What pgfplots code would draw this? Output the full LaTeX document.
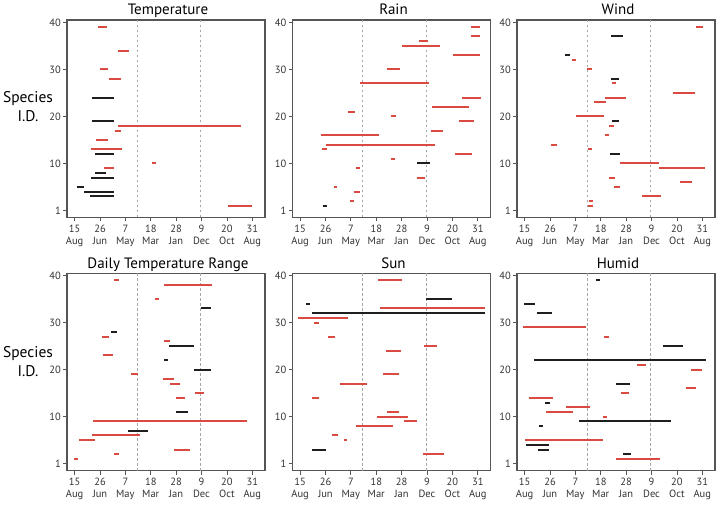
\documentclass[border=0pt]{standalone}
\usepackage{pgfplots}
\pgfplotsset{compat=1.18}
\usepackage{fontspec}
\setmainfont{PT Sans}
\definecolor{cred}{RGB}{218,74,64}
\definecolor{cblk}{RGB}{30,30,30}
\definecolor{cframe}{RGB}{85,85,85}
\definecolor{ctext}{RGB}{50,50,50}
\tikzset{
  segred/.style={color=cred, line width=2pt},
  segblk/.style={color=cblk, line width=2pt},
  dashln/.style={color=black!35, line width=0.7pt, dash pattern=on 2.5pt off 2.5pt},
}
\newcommand\R[3]{\addplot[segred] coordinates {(#2,#1) (#3,#1)};}
\newcommand\B[3]{\addplot[segblk] coordinates {(#2,#1) (#3,#1)};}
\newcommand\Dash{\addplot[dashln] coordinates {(2.47,-1.5) (2.47,40.5)};
  \addplot[dashln] coordinates {(4.97,-1.5) (4.97,40.5)};}
\pgfplotsset{panel/.style={
  scale only axis, width=198pt, height=197.5pt,
  xmin=-0.3, xmax=7.5, ymin=-1.5, ymax=40.5,
  xtick={0,1,2,3,4,5,6,7},
  xticklabels={15\\Aug,26\\Jun,7\\May,18\\Mar,28\\Jan,9\\Dec,20\\Oct,31\\Aug},
  ytick={0,10,20,30,40}, yticklabels={1,10,20,30,40},
  tick align=outside, tick pos=left,
  major tick length=4pt,
  every tick/.style={cframe, line width=0.8pt},
  axis line style={cframe, line width=1.2pt},
  every tick label/.append style={font=\fontsize{10.5}{12}\selectfont, text=ctext},
  xticklabel style={align=center, inner sep=2pt, yshift=-1.5pt},
  yticklabel style={inner sep=2pt},
  every axis title/.style={font=\fontsize{15}{17}\selectfont, text=black, at={(0.5,1)}, anchor=base, yshift=5pt, xshift=2pt},
}}
\begin{document}
\begin{tikzpicture}
\path[use as bounding box] (0,0) rectangle (718pt,504pt);
\node[align=center, font=\fontsize{15.5}{19}\selectfont] at (28pt,397pt) {Species\\I.D.};
\node[align=center, font=\fontsize{15.5}{19}\selectfont] at (28pt,142pt) {Species\\I.D.};
% Temperature
\begin{axis}[panel, at={(67pt,286.5pt)}, anchor=south west, title={Temperature}]
\Dash
\R{39}{0.91}{1.29}
\R{34}{1.72}{2.16}
\R{30}{1.00}{1.32}
\R{28}{1.36}{1.83}
\B{24}{0.68}{1.54}
\B{19}{0.68}{1.54}
\R{18}{1.70}{6.57}
\R{17}{1.59}{1.83}
\R{15}{0.86}{1.33}
\R{13}{0.66}{1.87}
\B{12}{0.80}{1.54}
\R{10}{3.04}{3.22}
\R{9}{1.14}{1.54}
\B{8}{0.82}{1.22}
\B{7}{0.66}{1.54}
\B{5}{0.08}{0.38}
\B{4}{0.37}{1.54}
\B{3}{0.61}{1.54}
\R{1}{6.05}{6.98}
\end{axis}
% Rain
\begin{axis}[panel, at={(292.5pt,286.5pt)}, anchor=south west, title={Rain}]
\Dash
\R{39}{6.74}{7.07}
\R{37}{6.73}{7.07}
\R{36}{4.70}{5.05}
\R{35}{4.03}{5.50}
\R{33}{6.03}{7.10}
\R{30}{3.42}{3.92}
\R{27}{2.37}{5.06}
\R{24}{6.38}{7.12}
\R{22}{5.21}{6.67}
\R{21}{1.88}{2.16}
\R{20}{3.57}{3.79}
\R{19}{6.27}{6.84}
\R{17}{5.16}{5.64}
\R{16}{0.83}{3.10}
\R{14}{1.00}{5.32}
\R{13}{0.86}{1.07}
\R{12}{6.11}{6.79}
\R{11}{3.57}{3.75}
\B{10}{4.62}{5.11}
\R{9}{2.22}{2.35}
\R{7}{4.60}{4.93}
\R{5}{1.34}{1.47}
\R{4}{2.11}{2.36}
\R{2}{1.97}{2.13}
\B{1}{0.89}{1.07}
\end{axis}
% Wind
\begin{axis}[panel, at={(517pt,286.5pt)}, anchor=south west, title={Wind}]
\Dash
\R{39}{6.74}{7.04}
\B{37}{3.41}{3.87}
\B{33}{1.61}{1.77}
\R{32}{1.87}{2.03}
\R{30}{2.46}{2.66}
\B{28}{3.42}{3.72}
\R{27}{3.46}{3.60}
\R{25}{5.85}{6.70}
\R{24}{3.16}{4.01}
\R{23}{2.75}{3.20}
\R{20}{2.03}{3.13}
\B{19}{3.45}{3.71}
\R{18}{3.34}{3.51}
\R{16}{3.16}{3.32}
\R{14}{1.05}{1.28}
\R{13}{2.48}{2.66}
\B{12}{3.38}{3.76}
\R{10}{3.77}{5.29}
\R{9}{5.29}{7.10}
\R{7}{3.33}{3.58}
\R{6}{6.12}{6.58}
\R{5}{3.53}{3.77}
\R{3}{4.64}{5.37}
\R{2}{2.53}{2.69}
\R{1}{2.50}{2.70}
\end{axis}
% Daily Temperature Range
\begin{axis}[panel, at={(67pt,33.3pt)}, anchor=south west, title={Daily Temperature Range}]
\Dash
\R{39}{1.56}{1.74}
\R{38}{3.52}{5.41}
\R{35}{3.17}{3.31}
\B{33}{4.97}{5.37}
\B{28}{1.44}{1.66}
\R{27}{1.09}{1.36}
\R{26}{3.54}{3.77}
\B{25}{3.71}{4.70}
\R{23}{1.11}{1.50}
\B{22}{3.52}{3.69}
\B{20}{4.71}{5.37}
\R{19}{2.24}{2.49}
\R{18}{3.50}{3.92}
\R{17}{3.76}{4.14}
\R{15}{4.75}{5.09}
\R{14}{3.98}{4.35}
\B{11}{3.98}{4.46}
\R{9}{0.74}{6.79}
\B{7}{2.10}{2.89}
\R{6}{0.70}{2.57}
\R{5}{0.16}{0.79}
\R{3}{3.91}{4.53}
\R{2}{1.57}{1.74}
\R{1}{-0.01}{0.15}
\end{axis}
% Sun
\begin{axis}[panel, at={(292.5pt,33.3pt)}, anchor=south west, title={Sun}]
\Dash
\R{39}{3.08}{4.03}
\B{35}{4.96}{6.00}
\B{34}{0.22}{0.38}
\R{33}{3.16}{7.30}
\B{32}{0.46}{7.27}
\R{31}{-0.08}{1.90}
\R{30}{0.56}{0.73}
\R{27}{1.10}{1.38}
\R{25}{4.89}{5.40}
\R{24}{3.37}{3.98}
\R{19}{3.27}{3.88}
\R{17}{1.56}{2.64}
\R{14}{0.46}{0.75}
\R{11}{3.43}{3.88}
\R{10}{3.01}{4.25}
\R{9}{4.09}{4.62}
\R{8}{2.22}{3.64}
\R{6}{1.27}{1.50}
\R{5}{1.73}{1.86}
\B{3}{0.47}{1.01}
\R{2}{4.84}{5.65}
\end{axis}
% Humid
\begin{axis}[panel, at={(517pt,33.3pt)}, anchor=south west, title={Humid}]
\Dash
\B{39}{2.83}{2.96}
\B{34}{-0.01}{0.42}
\B{32}{0.47}{1.08}
\R{29}{-0.07}{2.41}
\R{27}{3.13}{3.34}
\B{25}{5.44}{6.23}
\B{22}{0.36}{7.14}
\R{21}{4.43}{4.79}
\R{20}{6.57}{7.00}
\B{17}{3.59}{4.16}
\R{16}{6.35}{6.74}
\R{15}{3.78}{4.12}
\R{14}{0.17}{1.11}
\B{13}{0.81}{0.99}
\R{12}{1.63}{2.59}
\R{11}{0.85}{1.92}
\R{10}{3.08}{3.24}
\B{9}{2.15}{5.75}
\B{8}{0.56}{0.72}
\R{5}{0.03}{3.08}
\B{4}{0.04}{0.95}
\B{3}{0.51}{0.95}
\B{2}{3.88}{4.21}
\R{1}{3.59}{5.34}
\end{axis}
\end{tikzpicture}
\end{document}
